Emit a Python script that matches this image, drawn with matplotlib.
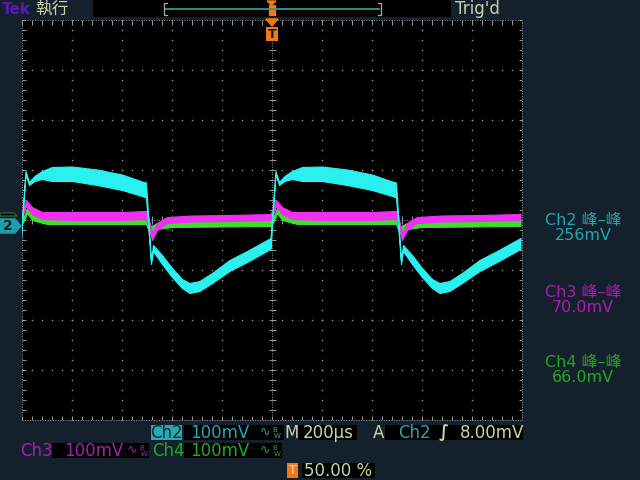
import matplotlib
matplotlib.use("Agg")
import matplotlib.pyplot as plt
import numpy as np
from matplotlib.patches import Polygon, Rectangle

# One period of each trace, in divisions. t is measured from the rising edge.
PERIOD_DIV = 5.0
N_PERIODS = 2

ch2_t = [-0.03, 0.07, 0.14, 0.25, 0.4, 0.6, 1.0, 1.5, 2.0, 2.4, 2.48,
         2.58, 2.62, 2.8, 3.0, 3.2, 3.35, 3.55, 3.8, 4.15, 4.5, 4.97]
ch2_lo = [-0.56, 0.92, 0.70, 0.78, 0.82, 0.78, 0.78, 0.70, 0.60, 0.48, 0.45,
          -0.88, -0.62, -0.88, -1.14, -1.36, -1.46, -1.42, -1.26, -1.02, -0.84, -0.58]
ch2_hi = [-0.36, 0.98, 0.76, 0.88, 0.98, 1.06, 1.07, 1.01, 0.91, 0.77, 0.75,
          -0.82, -0.50, -0.70, -0.96, -1.18, -1.26, -1.22, -1.06, -0.80, -0.62, -0.36]

ch3_t = [-0.03, 0.02, 0.08, 0.2, 0.4, 1.0, 2.0, 2.48, 2.52, 2.6, 2.7, 2.9,
         3.4, 4.2, 4.97]
ch3_lo = [0.00, 0.10, 0.28, 0.12, 0.02, 0.00, 0.00, 0.02, -0.10, -0.40, -0.20,
          -0.06, -0.03, -0.02, 0.00]
ch3_hi = [0.12, 0.22, 0.40, 0.26, 0.16, 0.16, 0.16, 0.18, 0.10, -0.26, -0.06,
          0.06, 0.09, 0.10, 0.12]

ch4_t = [-0.03, 0.04, 0.1, 0.2, 0.5, 2.48, 2.55, 2.7, 3.0, 4.97]
ch4_lo = [-0.12, -0.02, 0.14, 0.00, -0.08, -0.08, -0.26, -0.18, -0.14, -0.12]
ch4_hi = [0.00, 0.08, 0.24, 0.10, 0.02, 0.02, -0.14, -0.06, -0.02, 0.00]

meas_labels = ["Ch2 峰–峰", "Ch3 峰–峰", "Ch4 峰–峰"]
meas_values = ["256mV", "70.0mV", "66.0mV"]
ch_scales = ["100mV", "100mV", "100mV"]
timebase = "200µs"
trig_level = "8.00mV"
trig_pos = "50.00 %"

BG = "#15202d"
GRID = "#9a9a9a"
CYAN = "#2af0f0"
MAGENTA = "#f030f0"
GREEN = "#3ce02a"
TEAL_TXT = "#22a8ac"
MAG_TXT = "#a81fb0"
GRN_TXT = "#22a820"
PALE = "#c8d4a4"
ORANGE = "#f07a18"
FONT = ["DejaVu Sans", "Noto Sans CJK TC"]

W, H = 640, 480
fig = plt.figure(figsize=(6.4, 4.8), dpi=100)
fig.patch.set_facecolor(BG)

# graticule: 10 x 8 divisions
ax = fig.add_axes([22 / W, (H - 420) / H, 500 / W, 400 / H])
ax.set_facecolor("black")
ax.set_xlim(0, 10)
ax.set_ylim(-4, 4)
ax.set_xticks([])
ax.set_yticks([])
for sp in ax.spines.values():
    sp.set_visible(False)

xs_minor = np.arange(0, 10.001, 0.2)
ys_minor = np.arange(-4, 4.001, 0.2)
for gx in range(1, 10):
    if gx == 5:
        continue
    ax.plot(np.full(len(ys_minor), gx), ys_minor, ls="none", marker="s",
            ms=1.0, mew=0, color=GRID, zorder=1)
for gy in range(-3, 4):
    if gy == 0:
        continue
    ax.plot(xs_minor, np.full(len(xs_minor), gy), ls="none", marker="s",
            ms=1.0, mew=0, color=GRID, zorder=1)

dotted = dict(color=GRID, lw=0.7, ls=(0, (1, 1.6)), zorder=1)
ax.plot([5, 5], [-4, 4], **dotted)
ax.plot([0, 10], [0, 0], **dotted)
ax.hlines(ys_minor, 4.93, 5.07, color=GRID, lw=0.7, zorder=1)
ax.vlines(xs_minor, -0.08, 0.08, color=GRID, lw=0.7, zorder=1)

# border with inward ticks
for xb in (0, 10):
    ax.plot([xb, xb], [-4, 4], clip_on=False, **dotted)
for yb in (-4, 4):
    ax.plot([0, 10], [yb, yb], clip_on=False, **dotted)
ax.hlines(ys_minor, 0, 0.07, color=GRID, lw=0.7, zorder=1)
ax.hlines(ys_minor, 9.93, 10, color=GRID, lw=0.7, zorder=1)
ax.vlines(xs_minor, -4, -3.91, color=GRID, lw=0.7, zorder=1)
ax.vlines(xs_minor, 3.91, 4, color=GRID, lw=0.7, zorder=1)

# traces
for t, lo, hi, col, z in ((ch4_t, ch4_lo, ch4_hi, GREEN, 2),
                          (ch3_t, ch3_lo, ch3_hi, MAGENTA, 3),
                          (ch2_t, ch2_lo, ch2_hi, CYAN, 4)):
    for k in range(N_PERIODS):
        tt = np.asarray(t) + k * PERIOD_DIV
        ax.fill_between(tt, lo, hi, color=col, lw=0.8, edgecolor=col, zorder=z)

# overlay in pixel coordinates for the scope chrome
ui = fig.add_axes([0, 0, 1, 1], zorder=5)
ui.set_xlim(0, W)
ui.set_ylim(H, 0)
ui.axis("off")
ui.patch.set_alpha(0)


def txt(x, y, s, color, size=12, ha="left", **kw):
    ui.text(x, y, s, color=color, fontsize=size, ha=ha, va="center",
            family=FONT, **kw)


def box(x0, y0, w, h, color="black"):
    ui.add_patch(Rectangle((x0, y0), w, h, facecolor=color, edgecolor="none"))


# top bar
txt(2, 9, "Tek", "#5a18b4", size=11, weight="bold")
txt(35, 9, "執行", PALE, size=12)
box(93, 0, 358, 17)
ui.plot([166, 379], [9, 9], color="#2a9a9a", lw=1.3)
for xb, d in ((164, 3), (381, -3)):
    ui.plot([xb + d, xb, xb, xb + d], [3, 3, 15, 15], color="#a8b0a0", lw=0.9)
ui.add_patch(Polygon([(267, 1), (276, 1), (271.5, 5)], color=ORANGE))
ui.add_patch(Rectangle((268.5, 5), 6, 10, color=ORANGE))
txt(455, 9, "Trig'd", PALE, size=12)

# trigger position marker on graticule
ui.add_patch(Polygon([(266, 19), (278, 19), (272, 26)], color=ORANGE))
box(266, 27, 12, 14, ORANGE)
txt(272, 34, "T", "#1a1a1a", size=9, ha="center", weight="bold")

# Ch2 ground marker
ui.add_patch(Polygon([(0, 213), (14, 213), (17, 216), (0, 216)],
                     facecolor="black", edgecolor="#2a7a2a", lw=0.8))
ui.add_patch(Polygon([(0, 219), (15, 219), (21, 226), (15, 233), (0, 233)],
                     color="#1f9ea8"))
txt(8, 226, "2", "#0c1e2c", size=10, ha="center", weight="bold")

# right side measurements
for i, (lab, val, col) in enumerate(zip(meas_labels, meas_values,
                                        (TEAL_TXT, MAG_TXT, GRN_TXT))):
    y0 = 221 + i * 71
    txt(583, y0, lab, col, size=11.5, ha="center")
    txt(583, y0 + 15, val, col, size=11.5, ha="center")


def bw(x, y, color):
    txt(x, y, "∿", color, size=9)
    txt(x + 12, y - 3, "B", color, size=5)
    txt(x + 14, y + 3, "W", color, size=5)


# status row 1
box(151, 425, 31, 15, "#2aa8b0")
txt(166.5, 432.5, "Ch2", "#10303a", ha="center")
box(184, 425, 100, 15)
txt(190, 432.5, ch_scales[0], TEAL_TXT)
bw(260, 432.5, TEAL_TXT)
txt(284, 432.5, "M", PALE)
box(298, 425, 59, 15)
txt(303, 432.5, timebase, PALE)
txt(373, 432.5, "A", PALE)
box(385, 425, 138, 15)
txt(398, 432.5, "Ch2", TEAL_TXT)
txt(439, 432.5, "∫", PALE, weight="bold")
txt(460, 432.5, trig_level, PALE)

# status row 2
txt(20, 450.5, "Ch3", MAG_TXT)
box(52, 443, 97, 15)
txt(64, 450.5, ch_scales[1], MAG_TXT)
bw(127, 450.5, MAG_TXT)
txt(152, 450.5, "Ch4", GRN_TXT)
box(184, 443, 98, 15)
txt(190, 450.5, ch_scales[2], GRN_TXT)
bw(260, 450.5, GRN_TXT)

# status row 3
box(287, 463, 11, 15, ORANGE)
txt(292.5, 470.5, "T", "#f0e0c0", size=9, ha="center")
box(302, 463, 73, 15)
txt(304, 470.5, trig_pos, PALE)

fig.savefig("out.png", dpi=100, facecolor=BG)
